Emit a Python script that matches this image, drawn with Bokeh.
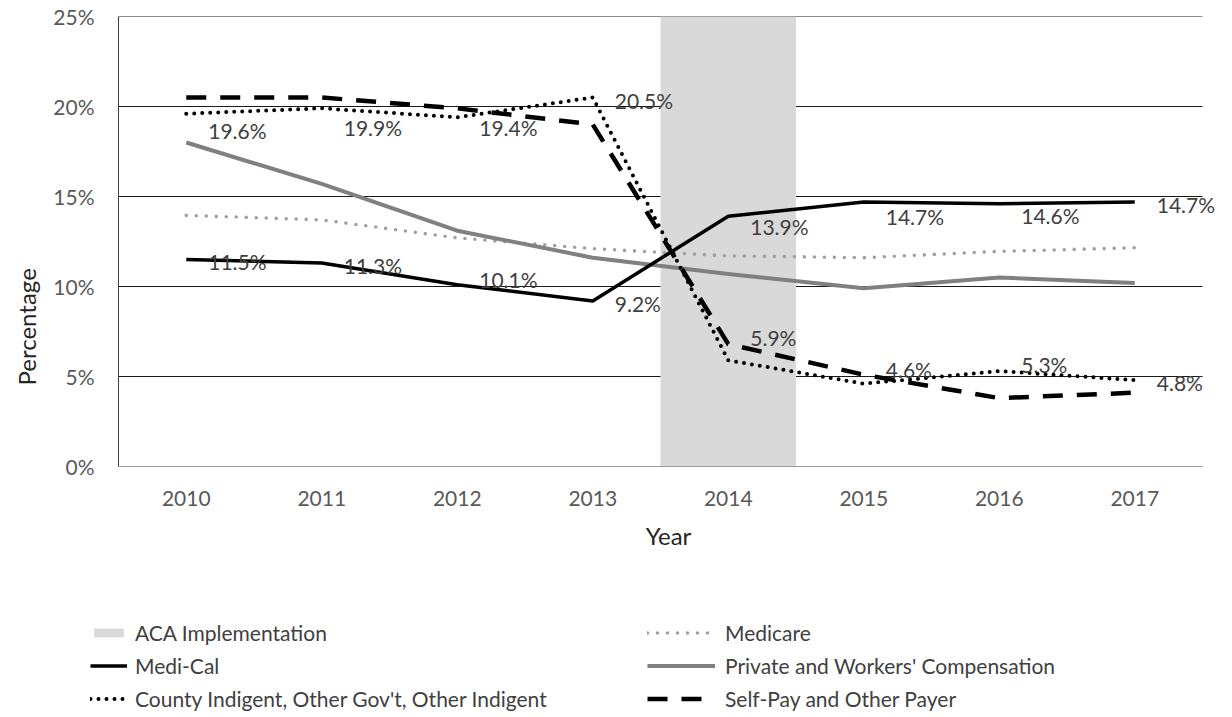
from bokeh.plotting import figure
from bokeh.layouts import column
from bokeh.core.properties import value
from bokeh.models import (Range1d, FixedTicker, PrintfTickFormatter, Title,
                          Legend, LegendItem, ColumnDataSource, LabelSet)
from bokeh.embed import file_html
from bokeh.resources import INLINE

# ---- data ----
years = ["2010", "2011", "2012", "2013", "2014", "2015", "2016", "2017"]
aca_year = "2014"
medi_cal = [11.5, 11.3, 10.1, 9.2, 13.9, 14.7, 14.6, 14.7]
medicare = [13.95, 13.7, 12.7, 12.1, 11.7, 11.6, 11.95, 12.15]
private_wc = [18.0, 15.7, 13.1, 11.6, 10.7, 9.9, 10.5, 10.2]
county = [19.6, 19.9, 19.4, 20.5, 5.9, 4.6, 5.3, 4.8]
self_pay = [20.5, 20.5, 19.9, 19.0, 6.8, 5.1, 3.8, 4.1]
y_ticks = [0, 5, 10, 15, 20, 25]

# ---- label placement (style, screen px, down positive) ----
medi_cal_label_dy = [2, 2, -5, 3, 10, 15, 12, 3]
county_label_dy = [17, 19, 10, 3, -23, -14, -7, 2]
label_dx = 22

FONT = "Lato"
TXT = "#404040"

# ---- styles ----
STY = {
    "aca": dict(fill_color="#d9d9d9", line_color=None),
    "medicare": dict(line_color="#a0a0a0", line_width=3.6, line_dash="0 10", line_cap="round"),
    "private": dict(line_color="#808080", line_width=4, line_join="round"),
    "medi": dict(line_color="black", line_width=3.5, line_join="round"),
    "county": dict(line_color="black", line_width=4, line_dash="0 8", line_cap="round"),
    "self": dict(line_color="black", line_width=4.5, line_dash="20 14"),
}

xs = [i + 0.5 for i in range(len(years))]
n = len(years)
aca_x = [years.index(aca_year) + 0.5]

p = figure(x_range=Range1d(0, n + 0.118), y_range=Range1d(0, 25),
           frame_width=1100, frame_height=450,
           min_border_left=118, min_border_right=14, min_border_top=16, min_border_bottom=94,
           output_backend="svg", toolbar_location=None)
p.frame_align = False
p.outline_line_color = None
p.background_fill_color = "white"
p.xgrid.visible = False
p.ygrid.visible = False

p.yaxis.ticker = FixedTicker(ticks=y_ticks)
p.yaxis.formatter = PrintfTickFormatter(format="%d%%")
p.xaxis.ticker = FixedTicker(ticks=xs)
p.xaxis.major_label_overrides = {x: y for x, y in zip(xs, years)}

for ax in (p.xaxis[0], p.yaxis[0]):
    ax.axis_line_color = "#404040"
    ax.major_tick_line_color = None
    ax.minor_tick_line_color = None
    ax.major_label_text_font = FONT
    ax.major_label_text_font_size = "21px"
    ax.major_label_text_color = "#595959"
p.xaxis.axis_line_color = None
p.xaxis.major_label_standoff = 18
p.yaxis.major_label_standoff = 18
p.xaxis.axis_label = "Year"
p.xaxis.axis_label_text_font = FONT
p.xaxis.axis_label_text_font_size = "24px"
p.xaxis.axis_label_text_font_style = "normal"
p.xaxis.axis_label_text_color = "#262626"
p.xaxis.axis_label_standoff = 12

# ---- gridlines (end with the last category) ----
p.segment(x0=0, x1=n, y0=y_ticks[1:], y1=y_ticks[1:], line_color="#1a1a1a", line_width=1)

# ---- series ----
p.vbar(x=aca_x, width=1.0, top=25, bottom=0, **STY["aca"])
p.segment(x0=0, x1=n, y0=y_ticks[:1], y1=y_ticks[:1], line_color="#404040", line_width=1.2)
p.line(xs, medicare, **STY["medicare"])
p.line(xs, private_wc, **STY["private"])
p.line(xs, medi_cal, **STY["medi"])
p.line(xs, county, **STY["county"])
p.line(xs, self_pay, **STY["self"])

# ---- data labels ----
def add_labels(vals, dys):
    src = ColumnDataSource(dict(x=xs, y=vals, t=["%.1f%%" % v for v in vals],
                                dx=[label_dx] * len(vals), dy=[-d for d in dys]))
    p.add_layout(LabelSet(x="x", y="y", text="t", x_offset="dx", y_offset="dy", source=src,
                          text_font=value(FONT), text_font_size="21px", text_color=TXT,
                          text_align="left", text_baseline="middle"))

add_labels(medi_cal, medi_cal_label_dy)
add_labels(county, county_label_dy)

# ---- y axis title ----
p.add_layout(Title(text="Percentage", align="left", offset=81, standoff=19,
                   text_font=FONT, text_font_size="24px", text_font_style="normal",
                   text_color="#262626"), "left")

# ---- legend strip: a second figure whose legend items reuse the series styles;
#      its y range lies away from the data, so only the legend is seen ----
LH = 157
q = figure(width=1232, height=LH, x_range=Range1d(0, 1232), y_range=Range1d(-1000, -1000 + LH),
           min_border=0, output_backend="svg", toolbar_location=None)
q.frame_align = False
q.axis.visible = False
q.grid.visible = False
q.outline_line_color = None
g_aca = q.vbar(x=aca_x, width=1.0, top=25, bottom=0, **STY["aca"])
g_medi = q.line(xs, medi_cal, **STY["medi"])
g_county = q.line(xs, county, **STY["county"])
g_medicare = q.line(xs, medicare, **STY["medicare"])
g_private = q.line(xs, private_wc, **STY["private"])
g_self = q.line(xs, self_pay, **STY["self"])

def make_legend(items, x, y, gw, standoff):
    lg = Legend(items=items, location=(x, y), orientation="vertical",
                glyph_width=gw, glyph_height=11, label_standoff=standoff,
                label_text_font=FONT, label_text_font_size="21px", label_text_color=TXT,
                label_height=25, spacing=8, padding=0, margin=0,
                border_line_color=None, background_fill_alpha=0)
    q.add_layout(lg, "center")

make_legend([LegendItem(label="ACA Implementation", renderers=[g_aca]),
             LegendItem(label="Medi-Cal", renderers=[g_medi]),
             LegendItem(label="County Indigent, Other Gov't, Other Indigent", renderers=[g_county])],
            90, 6, 37, 8)
make_legend([LegendItem(label="Medicare", renderers=[g_medicare]),
             LegendItem(label="Private and Workers' Compensation", renderers=[g_private]),
             LegendItem(label="Self-Pay and Other Payer", renderers=[g_self])],
            647, 6, 68, 10)

layout = column(p, q, spacing=0)
open("out.html", "w").write(file_html(layout, INLINE))
